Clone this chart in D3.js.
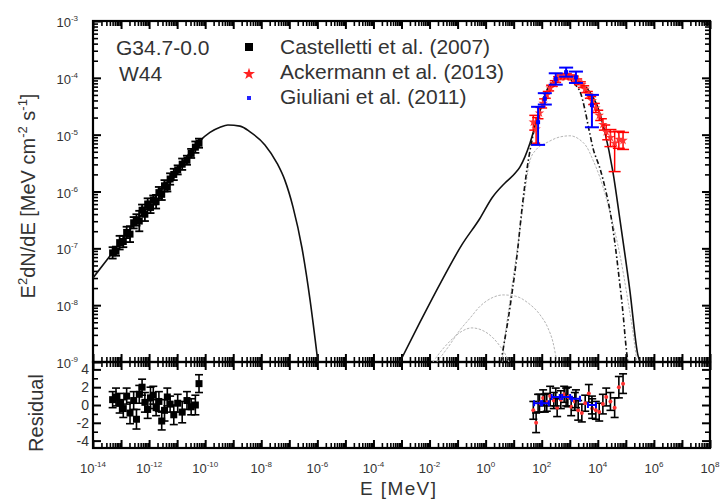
<!DOCTYPE html>
<html>
<head>
<meta charset="utf-8">
<title>W44 SED</title>
<script src="https://d3js.org/d3.v7.min.js"></script>
<style>
body { margin: 0; background: #fff; }
text { font-family: Arial, "Liberation Sans", sans-serif; fill: #333; }
</style>
</head>
<body>
<svg id="chart" width="721" height="499"></svg>
<script>
// all energies / fluxes below are log10 values

// synchrotron (solid, left)
var syncE = [-14, -13, -12, -11, -10.6, -10.19, -9.83, -9.47, -9.19, -8.76, -8.40, -7.87, -7.44, -7.16, -6.87, -6.55, -6.26, -5.98];
var syncF = [-7.52, -6.88, -6.24, -5.61, -5.35, -5.11, -4.96, -4.87, -4.83, -4.85, -4.95, -5.18, -5.50, -5.80, -6.27, -6.99, -7.91, -9.0];

// total high energy model (solid, right)
var totE = [-3.06, -2.34, -1.63, -0.85, -0.20, 0.23, 0.69, 1.05, 1.22, 1.40, 1.58, 1.83, 2.11, 2.40, 2.65, 2.93, 3.26, 3.61, 3.97, 4.25, 4.54, 4.79, 5.14, 5.43, 5.50];
var totF = [-9.0, -8.30, -7.63, -6.94, -6.47, -6.11, -5.85, -5.68, -5.57, -5.39, -5.15, -4.74, -4.36, -4.07, -4.00, -3.99, -4.04, -4.18, -4.48, -4.95, -5.66, -6.50, -7.73, -8.88, -9.0];

// dash-dot component
var ddE = [0.55, 0.65, 0.80, 0.94, 1.12, 1.29, 1.47, 1.69, 1.94, 2.22, 2.54, 2.86, 3.18, 3.40, 3.54, 3.68, 3.83, 4.08, 4.29, 4.47, 4.61, 4.75, 4.90, 5.00, 5.07];
var ddF = [-9.0, -8.70, -8.26, -7.79, -7.12, -6.33, -5.62, -5.01, -4.53, -4.18, -4.02, -4.00, -4.11, -4.29, -4.56, -4.90, -5.24, -5.60, -6.00, -6.44, -6.91, -7.48, -8.15, -8.70, -9.0];

// grey dotted components
var g1E = [0.58, 0.72, 0.87, 1.01, 1.15, 1.33, 1.58, 1.79, 2.22, 2.65, 3.01, 3.36, 3.61, 3.83, 4.08, 4.43, 4.79, 5.07, 5.29, 5.39];
var g1F = [-9.0, -8.44, -7.91, -7.42, -6.94, -6.27, -5.46, -5.27, -5.13, -5.04, -5.02, -5.09, -5.22, -5.45, -5.76, -6.36, -7.12, -7.91, -8.61, -9.0];
var g2E = [-1.74, -1.34, -0.92, -0.56, -0.20, 0.23, 0.62, 1.05, 1.51, 1.94, 2.22, 2.40, 2.54];
var g2F = [-9.0, -8.74, -8.44, -8.23, -8.02, -7.87, -7.82, -7.84, -7.96, -8.17, -8.40, -8.65, -9.0];
var g3E = [-1.88, -1.56, -1.20, -0.85, -0.49, -0.13, 0.23, 0.51, 0.72, 0.83];
var g3F = [-9.0, -8.79, -8.60, -8.46, -8.40, -8.44, -8.56, -8.72, -8.88, -9.0];

// Castelletti et al. (2007) radio
var radioE = [-13.30, -13.18, -13.05, -12.92, -12.80, -12.68, -12.55, -12.45, -12.35, -12.25, -12.15, -12.05, -11.95, -11.85, -11.75, -11.65, -11.55, -11.45, -11.35, -11.25, -11.12, -10.98, -10.82, -10.65, -10.50, -10.35, -10.22];
var radioF = [-7.08, -7.05, -6.90, -6.88, -6.72, -6.75, -6.55, -6.50, -6.52, -6.33, -6.40, -6.22, -6.28, -6.15, -6.18, -6.02, -6.05, -5.90, -5.92, -5.78, -5.70, -5.62, -5.52, -5.45, -5.33, -5.22, -5.15];
var radioErr = [0.10, 0.08, 0.12, 0.10, 0.10, 0.14, 0.10, 0.10, 0.18, 0.10, 0.12, 0.10, 0.10, 0.08, 0.12, 0.10, 0.10, 0.10, 0.08, 0.10, 0.10, 0.08, 0.10, 0.08, 0.08, 0.10, 0.08];
var radioRes = [0.6, 0.9, 0.2, -0.4, 1.0, -0.9, 0.5, -1.6, 1.2, 2.0, 0.3, -0.5, 0.8, 1.1, -0.3, 0.4, -1.8, -0.6, 0.9, 0.1, -1.1, 0.2, -0.8, 0.5, -0.2, 0.0, 2.4];
var radioResErr = [0.9, 1.0, 1.1, 1.0, 0.9, 1.2, 1.0, 1.1, 1.0, 0.9, 1.1, 1.0, 1.2, 1.0, 0.9, 1.1, 1.0, 1.2, 1.0, 0.9, 1.1, 1.0, 1.2, 1.0, 0.9, 1.1, 1.0];

// Ackermann et al. (2013) Fermi
var fermiE = [1.70, 1.80, 1.92, 2.05, 2.18, 2.30, 2.43, 2.55, 2.68, 2.80, 2.93, 3.05, 3.18, 3.30, 3.43, 3.55, 3.68, 3.80, 3.93, 4.05, 4.18, 4.30, 4.45, 4.60, 4.75, 4.90];
var fermiF = [-4.78, -4.90, -4.62, -4.45, -4.30, -4.18, -4.10, -4.03, -3.99, -3.97, -3.97, -3.99, -4.02, -4.07, -4.12, -4.20, -4.30, -4.40, -4.53, -4.66, -4.82, -4.95, -5.05, -5.15, -5.08, -5.10];
var fermiHi = [0.12, 0.20, 0.10, 0.08, 0.06, 0.05, 0.05, 0.05, 0.04, 0.04, 0.04, 0.04, 0.05, 0.05, 0.05, 0.06, 0.06, 0.07, 0.08, 0.09, 0.10, 0.12, 0.14, 0.20, 0.14, 0.14];
var fermiLo = [0.14, 0.25, 0.10, 0.08, 0.06, 0.05, 0.05, 0.05, 0.04, 0.04, 0.04, 0.04, 0.05, 0.05, 0.05, 0.06, 0.06, 0.07, 0.08, 0.09, 0.10, 0.14, 0.16, 0.50, 0.16, 0.16];
var fermiRes = [-0.6, -2.0, 0.2, 0.8, 0.3, 1.0, 0.5, -0.3, 0.6, 1.2, 0.9, -0.2, 0.4, -0.6, -0.9, 0.2, 1.3, -0.4, -0.6, -0.8, 0.1, 0.9, 0.4, -0.3, 2.0, 2.4];
var fermiResErr = [1.0, 1.1, 1.0, 0.9, 1.0, 1.1, 0.9, 1.0, 1.0, 0.9, 1.1, 1.0, 1.0, 1.1, 1.0, 0.9, 1.0, 1.1, 1.0, 1.0, 1.1, 1.0, 1.0, 1.1, 1.2, 1.1];

// Giuliani et al. (2011) AGILE
var agileE = [1.87, 2.11, 2.50, 2.87, 3.22, 3.79];
var agileF = [-4.78, -4.37, -4.02, -3.90, -3.99, -4.48];
var agileHi = [0.27, 0.10, 0.10, 0.08, 0.10, 0.18];
var agileLo = [0.40, 0.10, 0.10, 0.08, 0.10, 0.39];
var agileRes = [0.2, 0.2, 0.9, 0.9, 0.7, 0.0];

// tick labels (exponents)
var xLabelExp = [-14, -12, -10, -8, -6, -4, -2, 0, 2, 4, 6, 8];
var yLabelExp = [-3, -4, -5, -6, -7, -8, -9];
var resLabels = [4, 2, 0, -2, -4];

var L = 93, R = 710, T = 21, M = 362, B = 448;
var svg = d3.select("#chart");
var p = function(v) { return Math.pow(10, v); };

var x = d3.scaleLog().domain([1e-14, 1e8]).range([L, R]);
var y = d3.scaleLog().domain([1e-9, 1e-3]).range([M, T]);
var yr = d3.scaleLinear().domain([-4.83, 4.83]).range([B, M]);

svg.append("rect").attr("width", 721).attr("height", 499).attr("fill", "#fff");

svg.append("clipPath").attr("id", "clipTop")
  .append("rect").attr("x", L).attr("y", T).attr("width", R - L).attr("height", M - T);

// ticks
var xMajor = d3.range(-14, 9).map(p);
var xMinor = [];
d3.range(-14, 8).forEach(function(k) { d3.range(2, 10).forEach(function(m) { xMinor.push(m * p(k)); }); });
var yMajor = d3.range(-9, -2).map(p);
var yMinor = [];
d3.range(-9, -3).forEach(function(k) { d3.range(2, 10).forEach(function(m) { yMinor.push(m * p(k)); }); });

function ticks(axis, vals, size, tx, ty, w) {
  svg.append("g").attr("transform", "translate(" + tx + "," + ty + ")")
    .call(axis.tickValues(vals).tickSize(size).tickFormat(""))
    .call(function(g) { g.select(".domain").remove(); })
    .selectAll("line").attr("stroke-width", w);
}
[[xMajor, 8, 2], [xMinor, 5, 1.6]].forEach(function(t) {
  ticks(d3.axisBottom(x), t[0], t[1], 0, T, t[2]);
  ticks(d3.axisTop(x), t[0], t[1], 0, M, t[2]);
  ticks(d3.axisBottom(x), t[0], t[1], 0, M, t[2]);
  ticks(d3.axisTop(x), t[0], t[1], 0, B, t[2]);
});
[[yMajor, 8, 2], [yMinor, 5, 1.6]].forEach(function(t) {
  ticks(d3.axisRight(y), t[0], t[1], L, 0, t[2]);
  ticks(d3.axisLeft(y), t[0], t[1], R, 0, t[2]);
});
[[[-4, -2, 0, 2, 4], 8, 2], [[-3, -1, 1, 3], 5, 1.6]].forEach(function(t) {
  ticks(d3.axisRight(yr), t[0], t[1], L, 0, t[2]);
  ticks(d3.axisLeft(yr), t[0], t[1], R, 0, t[2]);
});

// frames
svg.append("rect").attr("x", L).attr("y", T).attr("width", R - L).attr("height", M - T)
  .attr("fill", "none").attr("stroke", "#000").attr("stroke-width", 2.2);
svg.append("rect").attr("x", L).attr("y", M).attr("width", R - L).attr("height", B - M)
  .attr("fill", "none").attr("stroke", "#000").attr("stroke-width", 2.2);

// tick labels
function powLabel(sel, exp) {
  sel.append("tspan").text("10");
  sel.append("tspan").attr("dy", -6).attr("font-size", 8).text(exp);
}
svg.selectAll(".xl").data(xLabelExp).join("text").attr("class", "xl")
  .attr("x", function(d) { return x(p(d)); }).attr("y", 473)
  .attr("text-anchor", "middle").attr("font-size", 13)
  .each(function(d) { powLabel(d3.select(this), d); });
svg.selectAll(".yl").data(yLabelExp).join("text").attr("class", "yl")
  .attr("x", 78).attr("y", function(d) { return y(p(d)) + 6; })
  .attr("text-anchor", "end").attr("font-size", 13)
  .each(function(d) { powLabel(d3.select(this), d); });
svg.selectAll(".rl").data(resLabels).join("text").attr("class", "rl")
  .attr("x", 89).attr("y", function(d) { return yr(d) + 5; })
  .attr("text-anchor", "end").attr("font-size", 14)
  .text(function(d) { return d; });

// axis titles
var yt = svg.append("text").attr("transform", "translate(35,196) rotate(-90)")
  .attr("text-anchor", "middle").attr("font-size", 20);
yt.append("tspan").text("E");
yt.append("tspan").attr("dy", -8).attr("font-size", 13).text("2");
yt.append("tspan").attr("dy", 8).text("dN/dE [MeV cm");
yt.append("tspan").attr("dy", -8).attr("font-size", 13).text("-2");
yt.append("tspan").attr("dy", 8).text(" s");
yt.append("tspan").attr("dy", -8).attr("font-size", 13).text("-1");
yt.append("tspan").attr("dy", 8).text("]");
svg.append("text").attr("transform", "translate(43,413) rotate(-90)")
  .attr("text-anchor", "middle").attr("font-size", 20).text("Residual");
svg.append("text").attr("x", 360).attr("y", 495).attr("font-size", 19)
  .attr("letter-spacing", 1.4).text("E [MeV]");

// model curves
var line = d3.line()
  .x(function(d) { return x(p(d[0])); })
  .y(function(d) { return y(p(d[1])); })
  .curve(d3.curveMonotoneX);
var curves = svg.append("g").attr("clip-path", "url(#clipTop)");
function curve(E, F, stroke, width, dash) {
  curves.append("path").datum(d3.zip(E, F)).attr("d", line)
    .attr("fill", "none").attr("stroke", stroke).attr("stroke-width", width)
    .attr("stroke-dasharray", dash);
}
curve(g3E, g3F, "#b5b5b5", 1, "2.5,1.5");
curve(g2E, g2F, "#b5b5b5", 1, "2.5,1.5");
curve(g1E, g1F, "#b5b5b5", 1, "2.5,1.5");
curve(ddE, ddF, "#111", 1.6, "5,2.5,1.5,2.5");
curve(syncE, syncF, "#111", 1.6, null);
curve(totE, totF, "#111", 1.6, null);

// error bar helper
function vbar(g, cx, y1, y2, cap, color, w) {
  g.append("line").attr("x1", cx).attr("x2", cx).attr("y1", y1).attr("y2", y2)
    .attr("stroke", color).attr("stroke-width", w);
  [y1, y2].forEach(function(yy) {
    g.append("line").attr("x1", cx - cap).attr("x2", cx + cap).attr("y1", yy).attr("y2", yy)
      .attr("stroke", color).attr("stroke-width", w);
  });
}

var gTop = svg.append("g");
var gRes = svg.append("g");

// radio points
radioE.forEach(function(e, i) {
  var cx = x(p(e)), cy = y(p(radioF[i]));
  vbar(gTop, cx, y(p(radioF[i] + radioErr[i])), y(p(radioF[i] - radioErr[i])), 4, "#000", 1.8);
  gTop.append("rect").attr("x", cx - 3.5).attr("y", cy - 3.5).attr("width", 7).attr("height", 7).attr("fill", "#000");
  var ry = yr(radioRes[i]);
  vbar(gRes, cx, yr(radioRes[i] + radioResErr[i]), yr(radioRes[i] - radioResErr[i]), 4, "#000", 1.6);
  gRes.append("rect").attr("x", cx - 3.5).attr("y", ry - 3.5).attr("width", 7).attr("height", 7).attr("fill", "#000");
});

// fermi points
var star = d3.symbol().type(d3.symbolStar).size(28);
fermiE.forEach(function(e, i) {
  var cx = x(p(e)), cy = y(p(fermiF[i]));
  vbar(gTop, cx, y(p(fermiF[i] + fermiHi[i])), y(p(fermiF[i] - fermiLo[i])), i > 21 ? 6 : 4, "#f00", 1.5);
  gTop.append("path").attr("d", star).attr("transform", "translate(" + cx + "," + cy + ")").attr("fill", "#f33");
  vbar(gRes, cx, yr(fermiRes[i] + fermiResErr[i]), yr(fermiRes[i] - fermiResErr[i]), 4, "#000", 1.6);
});
fermiE.forEach(function(e, i) {
  gRes.append("circle").attr("cx", x(p(e))).attr("cy", yr(fermiRes[i])).attr("r", 2).attr("fill", "#f33");
});

// agile points
agileE.forEach(function(e, i) {
  var cx = x(p(e)), cy = y(p(agileF[i]));
  vbar(gTop, cx, y(p(agileF[i] + agileHi[i])), y(p(agileF[i] - agileLo[i])), 7, "#00f", 2);
  gTop.append("rect").attr("x", cx - 2).attr("y", cy - 2).attr("width", 4).attr("height", 4).attr("fill", "#00f");
  var ry = yr(agileRes[i]);
  vbar(gRes, cx, yr(agileRes[i] + 1), yr(agileRes[i] - 1), 4, "#000", 1.6);
  gRes.append("line").attr("x1", cx - 4).attr("x2", cx + 4).attr("y1", ry).attr("y2", ry).attr("stroke", "#00f").attr("stroke-width", 2);
  [cx - 4, cx + 4].forEach(function(xx) {
    gRes.append("line").attr("x1", xx).attr("x2", xx).attr("y1", ry - 3).attr("y2", ry + 3).attr("stroke", "#00f").attr("stroke-width", 2);
  });
});

// legend
svg.append("text").attr("x", 116).attr("y", 55).attr("font-size", 21).text("G34.7-0.0");
svg.append("text").attr("x", 119).attr("y", 81).attr("font-size", 21).text("W44");
svg.append("rect").attr("x", 245).attr("y", 43).attr("width", 8).attr("height", 8).attr("fill", "#000");
svg.append("path").attr("d", d3.symbol().type(d3.symbolStar).size(45)).attr("transform", "translate(249,74)").attr("fill", "#f22");
svg.append("rect").attr("x", 247).attr("y", 96).attr("width", 4).attr("height", 4).attr("fill", "#22f");
var legText = ["Castelletti et al. (2007)", "Ackermann et al. (2013)", "Giuliani et al. (2011)"];
legText.forEach(function(t, i) {
  svg.append("text").attr("x", 280).attr("y", 54 + i * 25).attr("font-size", 21).text(t);
});
</script>
</body>
</html>
